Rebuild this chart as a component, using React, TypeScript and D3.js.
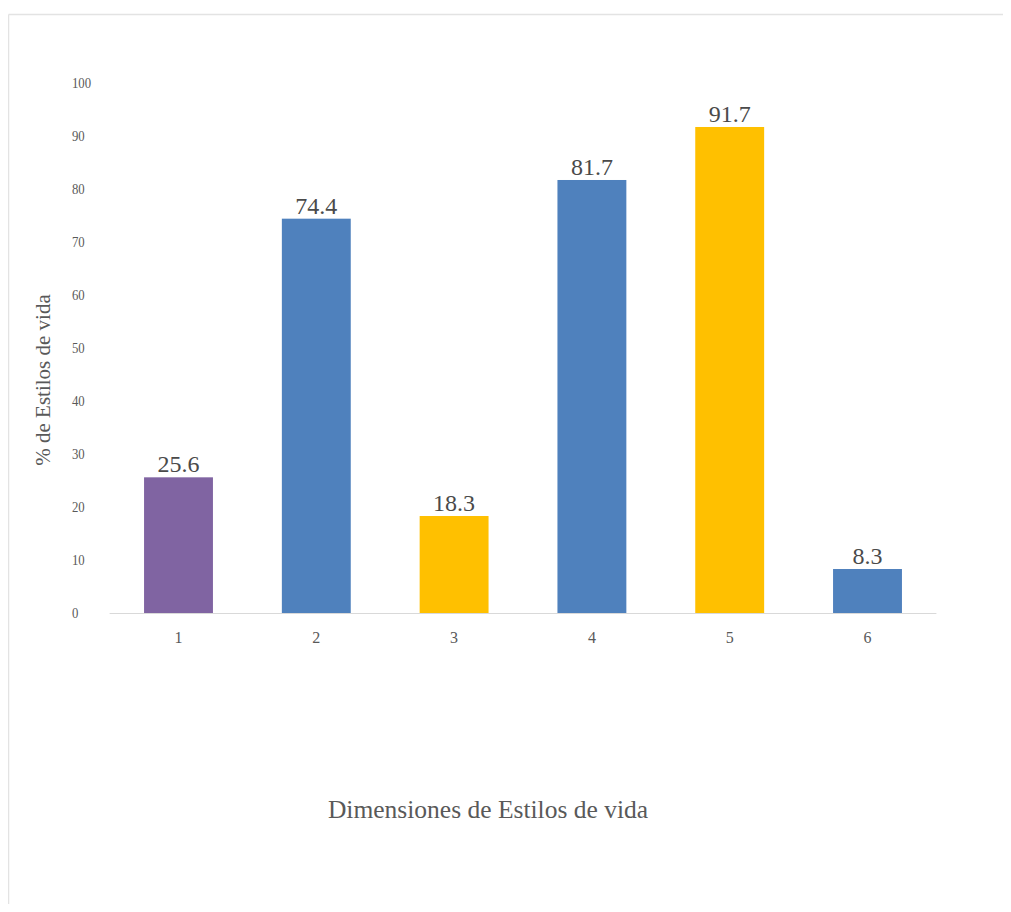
import React from "react";
import * as d3 from "d3";

const categories = ["1", "2", "3", "4", "5", "6"];
const values = [25.6, 74.4, 18.3, 81.7, 91.7, 8.3];
const barColors = ["#8064A2", "#4F81BD", "#FFC000", "#4F81BD", "#FFC000", "#4F81BD"];
const yTicks = [0, 10, 20, 30, 40, 50, 60, 70, 80, 90, 100];
const xTitle = "Dimensiones de Estilos de vida";
const yTitle = "% de Estilos de vida";

const W = 995;
const H = 896;
// svg origin is at page (8,8)
const plotLeft = 101.6;
const plotRight = 928.4;
const plotTop = 75;
const plotBottom = 605;

export default function App() {
  const x = d3.scaleBand<string>().domain(categories).range([plotLeft, plotRight]).paddingInner(0.5).paddingOuter(0.25);
  const y = d3.scaleLinear().domain([0, 100]).range([plotBottom, plotTop]);
  const font = "'Liberation Serif', 'Times New Roman', serif";
  return (
    <svg width={W} height={H} style={{ display: "block", overflow: "visible" }} fontFamily={font}>
      <rect x={0} y={0} width={W} height={H} fill="#fff" />
      <line x1={0.5} y1={6.5} x2={W + 5} y2={6.5} stroke="#e3e3e3" strokeWidth={1.5} />
      <line x1={0.5} y1={6.5} x2={0.5} y2={H} stroke="#e3e3e3" strokeWidth={1.5} />
      {yTicks.map((t) => (
        <text key={t} x={64} y={y(t)} dominantBaseline="central" fontSize={15} fill="#595959" textAnchor="start"
          transform={`translate(64,0) scale(0.85,1) translate(-64,0)`}>
          {t}
        </text>
      ))}
      <line x1={plotLeft} x2={plotRight} y1={plotBottom + 0.5} y2={plotBottom + 0.5} stroke="#d9d9d9" strokeWidth={1} />
      {values.map((v, i) => {
        const cx = (x(categories[i]) as number) + x.bandwidth() / 2;
        return (
          <g key={i}>
            <rect x={x(categories[i])} y={y(v)} width={x.bandwidth()} height={plotBottom - y(v)} fill={barColors[i]} />
            <text x={cx} y={y(v) - 5} textAnchor="middle" fontSize={24} fill="#4a4a4a">
              {v.toFixed(1)}
            </text>
            <text x={cx} y={629} textAnchor="middle" dominantBaseline="central" fontSize={16} fill="#595959">
              {categories[i]}
            </text>
          </g>
        );
      })}
      <text x={480} y={810} textAnchor="middle" fontSize={25.5} fill="#595959">
        {xTitle}
      </text>
      <text transform={`translate(42,372) rotate(-90)`} textAnchor="middle" fontSize={21} fill="#595959">
        {yTitle}
      </text>
    </svg>
  );
}
